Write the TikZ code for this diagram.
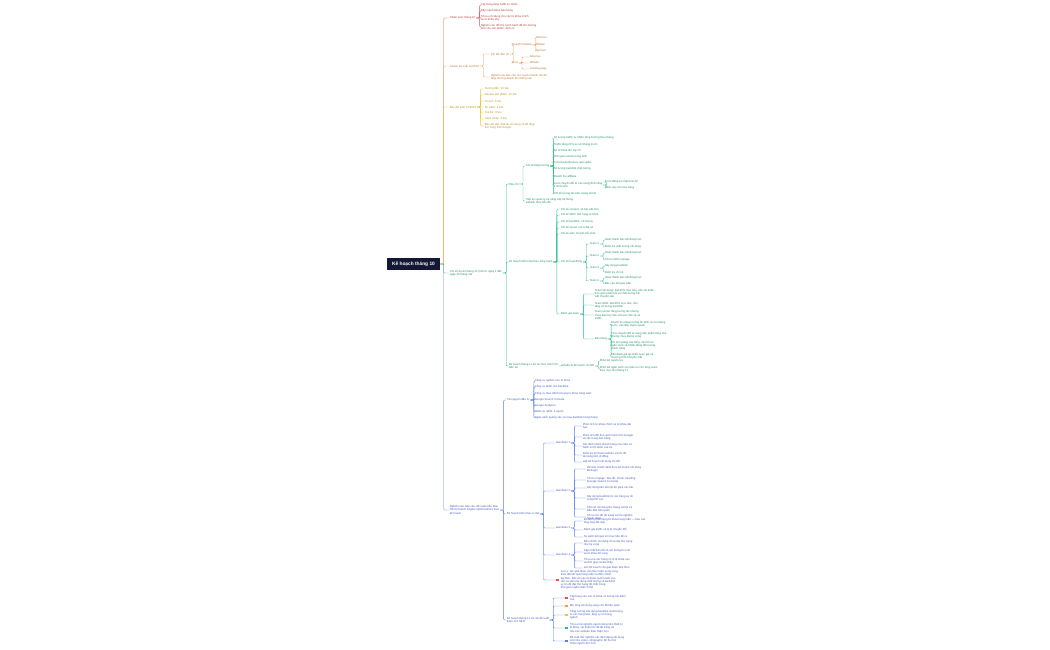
\documentclass[tikz,border=0pt]{standalone}
\usepackage{fontspec}
\setmainfont{Liberation Sans}
\begin{document}
\begin{tikzpicture}[x=1pt,y=-1pt,
 t/.style={anchor=west,font=\fontsize{2.8}{3.2}\selectfont,inner sep=0.6pt,align=left,text=bc!75!black},
 ln/.style={draw=bc,line width=0.4pt,rounded corners=1pt}]
\useasboundingbox (0,0) rectangle (1050,650);
\newcommand\nd[4]{\node[t] (#1) at (#2,#3) {#4};}
\newcommand\lk[2]{\draw[ln] (#1.east) -- ++(3.5,0) |- (#2.west);}
\definecolor{bc}{HTML}{222222}
\definecolor{navy}{HTML}{141834}
\node[fill=navy,text=white,font=\fontsize{4.8}{5}\selectfont\bfseries,minimum width=53,minimum height=12,inner sep=1pt] (root) at (413.5,264) {Kế hoạch tháng 10};
% RED
\begin{scope}
\definecolor{bc}{HTML}{E8504A}
\nd{r}{449}{18}{Chiến lược tháng 10}
\lk{root}{r}
\nd{r1}{480}{5}{Tập trung tăng traffic tự nhiên}
\nd{r2}{480}{11}{Đẩy mạnh kênh bán hàng}
\nd{r3}{480}{18}{Tối ưu nội dung cho các từ khóa chính\\và từ khóa phụ}
\nd{r4}{480}{27}{Nghiên cứu đối thủ cạnh tranh để tìm hướng\\mới cho sản phẩm, dịch vụ}
\foreach \c in {r1,r2,r3,r4}{\lk{r}{\c}}
\end{scope}
% ORANGE
\begin{scope}
\definecolor{bc}{HTML}{F0A050}
\nd{o}{449}{66}{Doanh thu tuổi 10/2023}
\lk{root}{o}
\nd{o1}{490}{54}{Chi tiết đơn số}
\nd{o2}{490}{77}{Nghiên cứu báo cáo các nguồn doanh thu để\\tăng trưởng doanh thu tháng sau}
\lk{o}{o1}\lk{o}{o2}
\nd{o11}{511}{45}{Quan/Prod/data}
\nd{o12}{511}{63}{Prod}
\lk{o1}{o11}\lk{o1}{o12}
\nd{a1}{535}{38}{Adsense}
\nd{a2}{535}{45}{Affiliate}
\nd{a3}{535}{51}{Sponsor}
\nd{b1}{529}{57}{Adsense}
\nd{b2}{529}{63}{Affiliate}
\nd{b3}{529}{69}{Landing page}
\foreach \c in {a1,a2,a3}{\lk{o11}{\c}}
\foreach \c in {b1,b2,b3}{\lk{o12}{\c}}
\end{scope}
% YELLOW
\begin{scope}
\definecolor{bc}{HTML}{F2C230}
\nd{y}{449}{107}{Bài viết tuần 10/2023}
\lk{root}{y}
\nd{y1}{484}{89}{Hướng dẫn: 15 bài}
\nd{y2}{484}{95}{Review sản phẩm: 10 bài}
\nd{y3}{484}{101}{Tin tức: 5 bài}
\nd{y4}{484}{107}{So sánh: 8 bài}
\nd{y5}{484}{113}{Top list: 6 bài}
\nd{y6}{484}{119}{Case study: 3 bài}
\nd{y7}{484}{126}{Bài viết cập nhật lại nội dung cũ để tăng\\thứ hạng trên Google}
\foreach \c in {y1,y2,y3,y4,y5,y6,y7}{\lk{y}{\c}}
\end{scope}
% GREEN
\begin{scope}
\definecolor{bc}{HTML}{2EBD85}
\nd{g}{449}{273}{Chỉ số dự án tháng 10 (tính từ ngày 1 đến\\ngày 30 tháng 10)}
\lk{root}{g}
\nd{g1}{508}{184}{Tiêu chí}
\nd{g2}{508}{262}{Kế hoạch triển khai theo từng team}
\nd{g3}{508}{366}{Kế hoạch tháng 11 dự án theo tình hình\\hiện tại}
\lk{g}{g1}\lk{g}{g2}\lk{g}{g3}
\nd{g11}{525}{166}{Chỉ số tăng trưởng}
\nd{g12}{525}{201}{Tiếp tục quản lý và nâng cấp hệ thống\\website theo tiến độ}
\lk{g1}{g11}\lk{g1}{g12}
\foreach \n/\yy/\tx in {1/138/{Số lượng traffic tự nhiên tăng trưởng theo tháng},2/145/{Traffic tăng 20\% so với tháng trước},3/151/{Số từ khóa lên top 10},4/157/{Thời gian onsite trung bình},5/163/{Tỷ lệ thoát (Bounce rate) giảm},6/169/{Số lượng backlink chất lượng},7/176/{Doanh thu affiliate}}{\nd{gk\n}{553}{\yy}{\tx}\lk{g11}{gk\n}}
\nd{gk8}{553}{185}{Lượt chuyển đổi từ các trang đích tăng\\ít nhất 10\%}
\nd{gk9}{553}{194}{Chỉ số tương tác trên mạng xã hội}
\lk{g11}{gk8}\lk{g11}{gk9}
\nd{gk81}{604}{182}{Form đăng ký nhận bản tin}
\nd{gk82}{604}{188}{Click vào nút mua hàng}
\lk{gk8}{gk81}\lk{gk8}{gk82}
\foreach \n/\yy/\tx in {1/209/{Chỉ số content: số bài viết mới},2/215/{Chỉ số SEO: thứ hạng từ khóa},3/222/{Chỉ số backlink: số lượng},4/228/{Chỉ số social: lượt chia sẻ},5/234/{Chỉ số ads: chi phí mỗi click}}{\nd{gm\n}{560}{\yy}{\tx}\lk{g2}{gm\n}}
\nd{gh}{560}{262}{Chỉ số hoạt động}
\nd{ge}{560}{314}{Đánh giá team}
\lk{g2}{gh}\lk{g2}{ge}
\foreach \n/\yy in {1/244,2/256,3/268,4/281}{\nd{tm\n}{589}{\yy}{Team \n}\lk{gh}{tm\n}}
\nd{ta1}{604}{240}{Hoàn thành bài viết đúng hạn}\nd{ta2}{604}{247}{Kiểm tra chất lượng nội dung}
\nd{tb1}{604}{253}{Hoàn thành bài viết đúng hạn}\nd{tb2}{604}{260}{Tối ưu SEO onpage}
\nd{tc1}{604}{266}{Xây dựng backlink}\nd{tc2}{604}{272}{Kiểm tra chỉ số}
\nd{td1}{604}{278}{Hoàn thành bài viết đúng hạn}\nd{td2}{604}{284}{Báo cáo kết quả tuần}
\lk{tm1}{ta1}\lk{tm1}{ta2}\lk{tm2}{tb1}\lk{tm2}{tb2}\lk{tm3}{tc1}\lk{tm3}{tc2}\lk{tm4}{td1}\lk{tm4}{td2}
\nd{e1}{594}{294}{Team nội dung: đạt 90\% mục tiêu, cần cải thiện\\thời gian phản hồi và chất lượng bài\\viết chuyên sâu}
\nd{e2}{594}{305}{Team SEO: đạt 85\% mục tiêu, cần\\tăng số lượng backlink}
\nd{e3}{594}{315}{Team social: tăng tương tác nhưng\\chưa đạt mục tiêu về lượt chia sẻ và\\traffic}
\nd{e4}{594}{339}{Bán hàng}
\foreach \c in {e1,e2,e3,e4}{\lk{ge}{\c}}
\nd{f1}{610}{324}{Doanh thu tăng trưởng ổn định so với tháng\\trước, cần đẩy mạnh upsell}
\nd{f2}{610}{335}{Tỷ lệ chuyển đổi từ trang sản phẩm tăng nhẹ\\nhưng chưa đạt kỳ vọng}
\nd{f3}{610}{346}{Chi phí quảng cáo tăng, cần tối ưu\\ngân sách và nhắm đúng đối tượng\\khách hàng}
\nd{f4}{610}{356}{Cần đánh giá lại chiến lược giá và\\chương trình khuyến mãi}
\foreach \c in {f1,f2,f3,f4}{\lk{e4}{\c}}
\nd{g31}{561}{366}{Chuẩn bị kế hoạch chi tiết}
\lk{g3}{g31}
\nd{h1}{599}{361}{Phân bổ nguồn lực}
\nd{h2}{599}{369}{Phân bổ ngân sách và nhân sự cho từng team\\theo mục tiêu tháng 11}
\lk{g31}{h1}\lk{g31}{h2}
\end{scope}
% BLUE
\begin{scope}
\definecolor{bc}{HTML}{5B7BF0}
\nd{bl}{449}{510}{Nghiên cứu báo cáo, đề xuất triển khai\\SEO (Search Engine Optimization) theo\\kế hoạch}
\lk{root}{bl}
\nd{bl1}{506}{400}{Tài nguyên đầu tư}
\nd{bl2}{506}{514}{Kế hoạch triển khai cụ thể}
\nd{bl3}{506}{620}{Kế hoạch tháng 11 và các đề xuất\\thêm cho SEO}
\lk{bl}{bl1}\lk{bl}{bl2}\lk{bl}{bl3}
\foreach \n/\yy/\tx in {1/381/{Công cụ nghiên cứu từ khóa},2/387/{Công cụ phân tích backlink},3/394/{Công cụ theo dõi thứ hạng từ khóa hàng tuần},4/400/{Google Search Console},5/406/{Google Analytics},6/412/{Nhân sự SEO: 3 người},7/418/{Ngân sách quảng cáo và mua backlink hàng tháng}}{\nd{bi\n}{534}{\yy}{\tx}\lk{bl1}{bi\n}}
\nd{s1}{555}{443}{Giai đoạn 1}
\nd{s2}{555}{491}{Giai đoạn 2}
\nd{s3}{555}{528}{Giai đoạn 3}
\nd{s4}{555}{555}{Giai đoạn 4}
\nd{s5}{560}{580}{Lưu ý: các giai đoạn cần thực hiện song song,\\theo dõi kết quả hàng tuần và điều chỉnh\\kịp thời. Đối với các từ khóa cạnh tranh cao,\\cần ưu tiên nội dung chất lượng và backlink\\uy tín để đạt thứ hạng tốt nhất trong\\thời gian ngắn nhất có thể}
\foreach \c in {s1,s2,s3,s4}{\lk{bl2}{\c}}
\draw[ln] (bl2.east) -- ++(3.5,0) |- ([xshift=-4]s5.west);
\fill[red!70] ([xshift=-3.7,yshift=1.3]s5.west) rectangle ++(2.6,2.6);
\nd{p1}{582}{426}{Phân tích từ khóa chính và từ khóa dài\\hạn}
\nd{p2}{582}{437}{Phân tích đối thủ cạnh tranh trên Google\\và các trang bán hàng}
\nd{p3}{582}{446}{Xác định nhóm khách hàng mục tiêu và\\hành vi tìm kiếm của họ}
\nd{p4}{582}{455}{Kiểm tra kỹ thuật website và tốc độ\\tải trang trên di động}
\nd{p5}{582}{462}{Lập kế hoạch nội dung chi tiết}
\foreach \c in {p1,p2,p3,p4,p5}{\lk{s1}{\c}}
\nd{q1}{586}{469}{Viết bài chuẩn SEO theo kế hoạch nội dung\\đã duyệt}
\nd{q2}{586}{480}{Tối ưu onpage: tiêu đề, mô tả, heading\\(Google Search Console)}
\nd{q3}{586}{488}{Xây dựng liên kết nội bộ giữa các bài}
\nd{q4}{586}{498}{Xây dựng backlink từ các trang uy tín\\cùng lĩnh vực}
\nd{q5}{586}{509}{Chia sẻ nội dung lên mạng xã hội và\\diễn đàn liên quan}
\nd{q6}{586}{517}{Tối ưu tốc độ tải trang và trải nghiệm\\người dùng}
\foreach \c in {q1,q2,q3,q4,q5,q6}{\lk{s2}{\c}}
\nd{u1}{583}{521}{Đo lường thứ hạng từ khóa hàng tuần — báo cáo\\tổng hợp kết quả}
\nd{u2}{583}{530}{Đánh giá traffic và tỷ lệ chuyển đổi}
\nd{u3}{583}{537}{So sánh kết quả với mục tiêu đề ra}
\foreach \c in {u1,u2,u3}{\lk{s3}{\c}}
\nd{v1}{583}{543}{Điều chỉnh nội dung chưa đạt thứ hạng\\như kỳ vọng}
\nd{v2}{583}{552}{Cập nhật bài viết cũ với thông tin mới\\và từ khóa bổ sung}
\nd{v3}{583}{561}{Tối ưu lại các trang có tỷ lệ thoát cao\\và thời gian onsite thấp}
\nd{v4}{583}{568}{Lên kế hoạch cho giai đoạn tiếp theo}
\foreach \c in {v1,v2,v3,v4}{\lk{s4}{\c}}
\foreach \n/\yy/\cc/\tx in {1/598/E8504A/{Tập trung vào các từ khóa có lượng tìm kiếm\\cao}, 2/606/F0A050/{Mở rộng nội dung sang chủ đề liên quan}, 3/615/F2C230/{Tăng cường xây dựng backlink chất lượng\\từ các trang báo, blog uy tín trong\\ngành}, 4/628/2EBD85/{Tối ưu trải nghiệm người dùng trên thiết bị\\di động, cải thiện tốc độ tải trang và\\cấu trúc website thân thiện hơn}, 5/641/5B7BF0/{Đề xuất thử nghiệm các định dạng nội dung\\mới như video, infographic để thu hút\\nhiều người đọc hơn}}{
 \nd{w\n}{569}{\yy}{\tx}
 \draw[ln] (bl3.east) -- ++(3.5,0) |- ([xshift=-4]w\n.west);
 \definecolor{dc}{HTML}{\cc}
 \fill[dc] ([xshift=-3.7,yshift=1.3]w\n.west) rectangle ++(2.6,2.6);
}
\end{scope}
\end{tikzpicture}
\end{document}
